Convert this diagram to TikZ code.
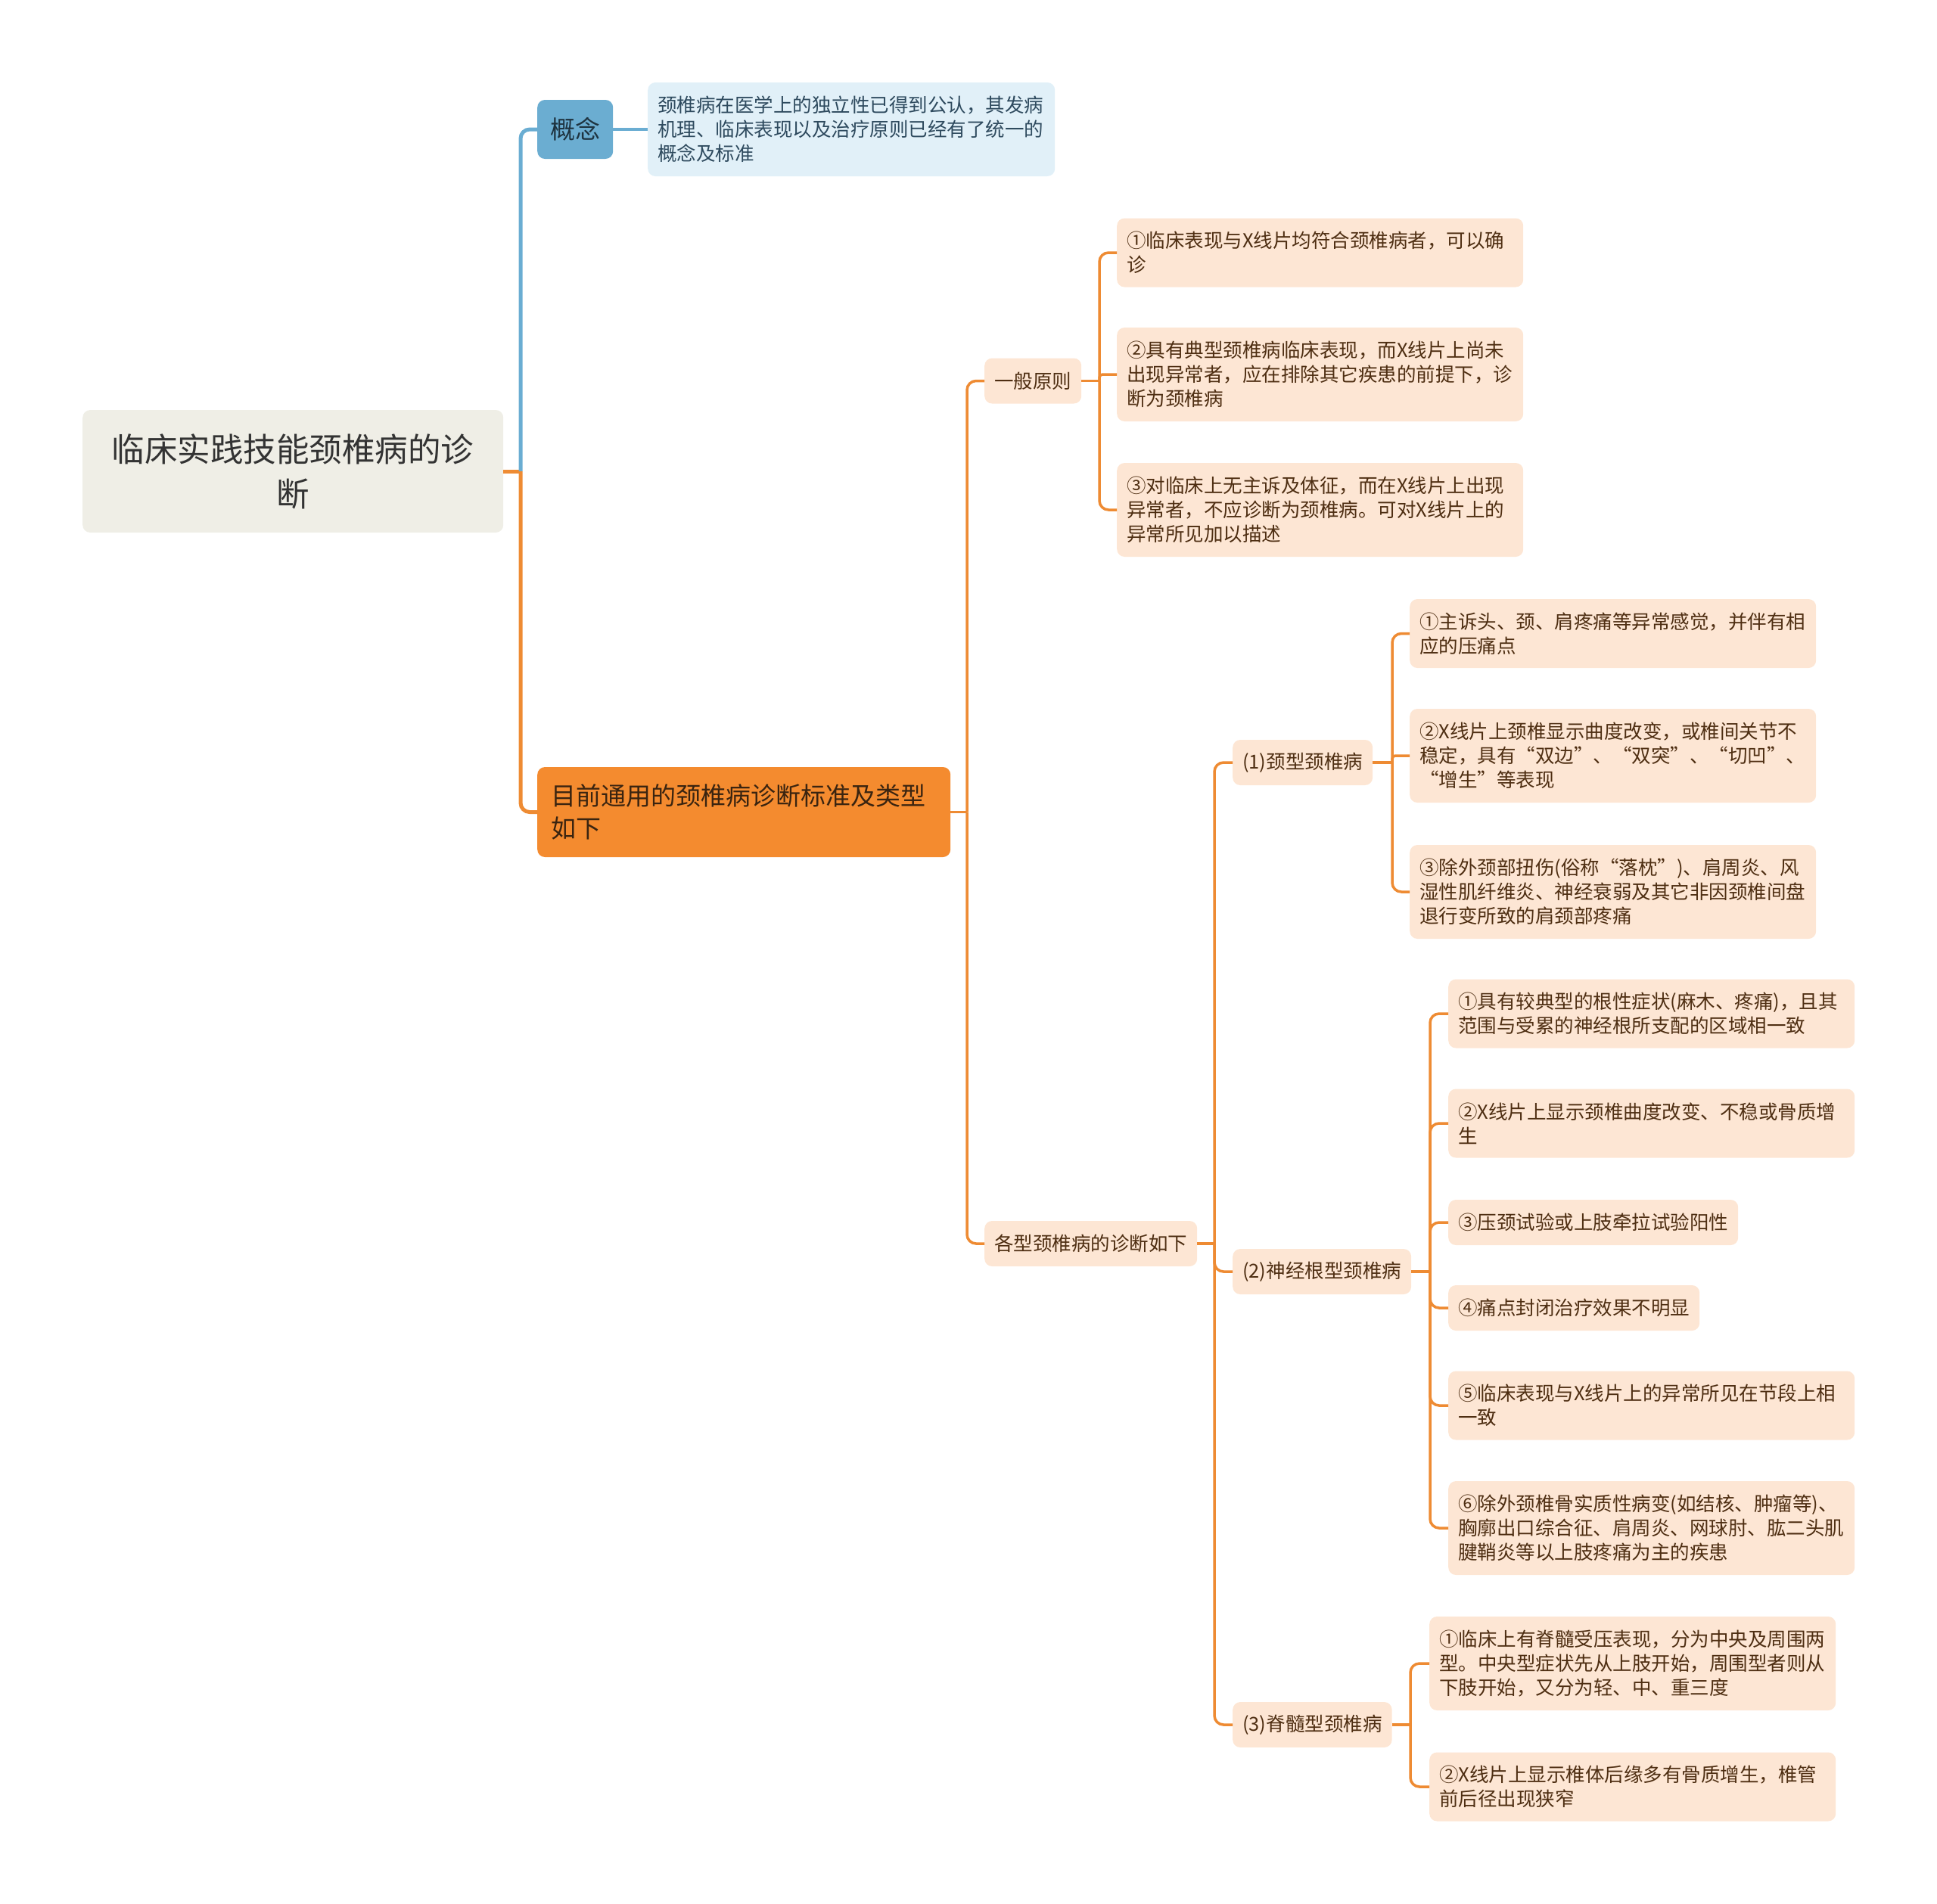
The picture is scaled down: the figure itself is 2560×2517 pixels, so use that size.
\documentclass[tikz,border=0pt]{standalone}
\usepackage{fontspec}
\setmainfont{Noto Sans CJK SC}
\definecolor{rootfill}{HTML}{EFEEE6}
\definecolor{roottext}{HTML}{333333}
\definecolor{bluefill}{HTML}{6BADD1}
\definecolor{bluetext}{HTML}{1E3340}
\definecolor{lbluefill}{HTML}{E1F0F8}
\definecolor{lbluetext}{HTML}{2E4A5E}
\definecolor{mainfill}{HTML}{F48B2F}
\definecolor{maintext}{HTML}{3A2410}
\definecolor{peachfill}{HTML}{FDE6D4}
\definecolor{peachtext}{HTML}{4E2E12}
\definecolor{blueline}{HTML}{6AADD2}
\definecolor{orangeline}{HTML}{EE8B33}
\begin{document}
\begin{tikzpicture}[x=1pt,y=-1pt,
  box/.style={rounded corners=10pt, inner xsep=13pt, inner ysep=0pt, anchor=west,
              font=\fontsize{25.5}{32}\selectfont},
  peach/.style={box, fill=peachfill, text=peachtext},
  item/.style={peach, text width=511pt, align=left},
  hone/.style={minimum height=60pt},
  htwo/.style={minimum height=91pt},
  hthree/.style={minimum height=124pt},
  conn/.style={draw=orangeline, line width=3.5pt, rounded corners=12pt},
  connsmall/.style={draw=orangeline, line width=3.5pt, rounded corners=4pt},
  trunk/.style={line width=5pt, rounded corners=12pt}
]
\useasboundingbox (0,0) rectangle (2560,2517);

% root
\node[box, fill=rootfill, text=roottext, minimum width=556pt, minimum height=162pt,
      text width=530pt, align=center, font=\fontsize{43.5}{59}\selectfont]
  (root) at (109,623) {临床实践技能颈椎病的诊\\断};

% concept
\node[box, fill=bluefill, text=bluetext, minimum width=100pt, minimum height=78pt,
      inner xsep=0pt, align=center, font=\fontsize{33}{42}\selectfont]
  (concept) at (710,171) {概念};
\node[box, fill=lbluefill, text=lbluetext, text width=512pt, align=left, hthree]
  (detail) at (856,171) {颈椎病在医学上的独立性已得到公认，其发病\\机理、临床表现以及治疗原则已经有了统一的\\概念及标准};

% main
\node[box, fill=mainfill, text=maintext, minimum width=546pt, minimum height=119pt,
      inner xsep=18pt, text width=510pt, align=left, font=\fontsize{33}{42.5}\selectfont]
  (main) at (710,1073.5) {目前通用的颈椎病诊断标准及类型\\如下};

% general principles
\node[peach, hone] (gp) at (1301,503.5) {一般原则};
\node[item, htwo] (gp1) at (1476,334) {①临床表现与X线片均符合颈椎病者，可以确\\诊};
\node[item, hthree] (gp2) at (1476,495) {②具有典型颈椎病临床表现，而X线片上尚未\\出现异常者，应在排除其它疾患的前提下，诊\\断为颈椎病};
\node[item, hthree] (gp3) at (1476,674) {③对临床上无主诉及体征，而在X线片上出现\\异常者，不应诊断为颈椎病。可对X线片上的\\异常所见加以描述};

% types
\node[peach, hone] (types) at (1301,1644) {各型颈椎病的诊断如下};

\node[peach, hone] (ca) at (1629,1008) {(1)颈型颈椎病};
\node[item, htwo] (ca1) at (1863,837.5) {①主诉头、颈、肩疼痛等异常感觉，并伴有相\\应的压痛点};
\node[item, hthree] (ca2) at (1863,999) {②X线片上颈椎显示曲度改变，或椎间关节不\\稳定，具有“双边”、“双突”、“切凹”、\\“增生”等表现};
\node[item, hthree] (ca3) at (1863,1179) {③除外颈部扭伤(俗称“落枕”)、肩周炎、风\\湿性肌纤维炎、神经衰弱及其它非因颈椎间盘\\退行变所致的肩颈部疼痛};

\node[peach, hone] (cb) at (1629,1681) {(2)神经根型颈椎病};
\node[item, htwo] (cb1) at (1914,1340) {①具有较典型的根性症状(麻木、疼痛)，且其\\范围与受累的神经根所支配的区域相一致};
\node[item, htwo] (cb2) at (1914,1485) {②X线片上显示颈椎曲度改变、不稳或骨质增\\生};
\node[peach, hone] (cb3) at (1914,1616) {③压颈试验或上肢牵拉试验阳性};
\node[peach, hone] (cb4) at (1914,1729) {④痛点封闭治疗效果不明显};
\node[item, htwo] (cb5) at (1914,1858) {⑤临床表现与X线片上的异常所见在节段上相\\一致};
\node[item, hthree] (cb6) at (1914,2020) {⑥除外颈椎骨实质性病变(如结核、肿瘤等)、\\胸廓出口综合征、肩周炎、网球肘、肱二头肌\\腱鞘炎等以上肢疼痛为主的疾患};

\node[peach, hone] (cc) at (1629,2280) {(3)脊髓型颈椎病};
\node[item, hthree] (cc1) at (1889,2199) {①临床上有脊髓受压表现，分为中央及周围两\\型。中央型症状先从上肢开始，周围型者则从\\下肢开始，又分为轻、中、重三度};
\node[item, htwo] (cc2) at (1889,2362) {②X线片上显示椎体后缘多有骨质增生，椎管\\前后径出现狭窄};

% junction coordinates
\coordinate (rootj) at (688,623);
\coordinate (mainj) at (1278,1073.5);
\coordinate (gpj) at (1453,503.5);
\coordinate (typesj) at (1605,1644);
\coordinate (caj) at (1840,1008);
\coordinate (cbj) at (1890,1681);
\coordinate (ccj) at (1864,2280);

% connectors
\draw[trunk, draw=orangeline] (root.east) -- (rootj);
\draw[trunk, draw=blueline] (rootj) |- (concept.west);
\draw[trunk, draw=orangeline] (rootj) |- (main.west);
\draw[draw=blueline, line width=4pt] (concept.east) -- (detail.west);

\draw[conn] (main.east) -- (mainj);
\draw[conn] (mainj) |- (gp.west);
\draw[conn] (mainj) |- (types.west);

\draw[conn] (gp.east) -- (gpj);
\draw[conn] (gpj) |- (gp1.west);
\draw[connsmall] (gpj) |- (gp2.west);
\draw[conn] (gpj) |- (gp3.west);

\draw[conn] (types.east) -- (typesj);
\draw[conn] (typesj) |- (ca.west);
\draw[conn] (typesj) |- (cb.west);
\draw[conn] (typesj) |- (cc.west);

\draw[conn] (ca.east) -- (caj);
\draw[conn] (caj) |- (ca1.west);
\draw[connsmall] (caj) |- (ca2.west);
\draw[conn] (caj) |- (ca3.west);

\draw[conn] (cb.east) -- (cbj);
\draw[conn] (cbj) |- (cb1.west);
\draw[conn] (cbj) |- (cb2.west);
\draw[conn] (cbj) |- (cb3.west);
\draw[conn] (cbj) |- (cb4.west);
\draw[conn] (cbj) |- (cb5.west);
\draw[conn] (cbj) |- (cb6.west);

\draw[conn] (cc.east) -- (ccj);
\draw[conn] (ccj) |- (cc1.west);
\draw[conn] (ccj) |- (cc2.west);
\end{tikzpicture}
\end{document}
